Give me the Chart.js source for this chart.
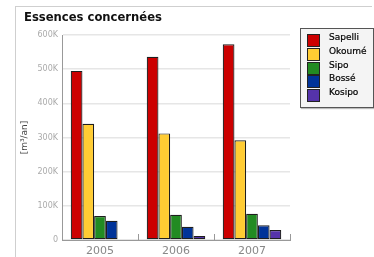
<!DOCTYPE html>
<html>
<head>
<meta charset="utf-8">
<script src="https://cdn.jsdelivr.net/npm/chart.js@4/dist/chart.umd.min.js"></script>
<style>
  html, body { margin: 0; padding: 0; background: #fff; overflow: hidden; }
  #wrap { position: relative; width: 374px; height: 257px; overflow: hidden; font-family: "DejaVu Sans", sans-serif; }
  #frame { position: absolute; left: 15px; top: 6px; width: 357px; height: 300px; border-top: 1px solid #cfcfcf; border-left: 1px solid #cfcfcf; box-sizing: border-box; }
  #title { position: absolute; left: 24px; top: 10px; font-size: 11.6px; font-weight: bold; color: #111; white-space: nowrap; }
  #legend { position: absolute; left: 300px; top: 28px; width: 72px; height: 78px; border: 1px solid #555; background: #f4f4f4; box-shadow: 1px 1px 1px #bbb; }
  .row { position: absolute; left: 6px; height: 12px; }
  .sw { position: absolute; left: 0; top: 0; width: 11px; height: 11px; border: 1px solid #222; }
  .lb { position: absolute; left: 22px; top: -3px; font-size: 9px; color: #000; white-space: nowrap; line-height: 12px; -webkit-text-stroke: 0.2px #000; }
  canvas { position: absolute; left: 0; top: 0; }
</style>
</head>
<body>
<div id="wrap">
  <div id="frame"></div>
  <canvas id="c" width="374" height="257"></canvas>
  <div id="title">Essences concernées</div>
  <div id="legend"></div>
</div>
<script>
const categories = ['2005', '2006', '2007'];
const seriesNames = ['Sapelli', 'Okoumé', 'Sipo', 'Bossé', 'Kosipo'];
const sapelli = [495000, 536000, 573000];
const okoume  = [340000, 312000, 292000];
const sipo    = [70000, 74000, 77000];
const bosse   = [56000, 39000, 43000];
const kosipo  = [2000, 12000, 29000];
const yTicks = [0, 100000, 200000, 300000, 400000, 500000, 600000];
const yTitle = '[m³/an]';

const colors = ['#cc0000', '#ffcc33', '#228b22', '#003399', '#5533aa'];
const values = [sapelli, okoume, sipo, bosse, kosipo];

const datasets = seriesNames.map((n, i) => ({
  label: n,
  data: values[i],
  backgroundColor: colors[i],
  borderColor: '#1e1e1e',
  borderWidth: 1.2,
  borderSkipped: false,
  categoryPercentage: 0.77,
  barPercentage: 1.0
}));

// HTML legend from series
const leg = document.getElementById('legend');
seriesNames.forEach((n, i) => {
  const r = document.createElement('div');
  r.className = 'row';
  r.style.top = (5 + i * 13.75) + 'px';
  r.innerHTML = '<div class="sw" style="background:' + colors[i] + '"></div><div class="lb">' + n + '</div>';
  leg.appendChild(r);
});

const catTicks = {
  id: 'catTicks',
  afterDraw(chart) {
    const x = chart.scales.x, ctx = chart.ctx;
    const n = categories.length;
    ctx.save();
    ctx.strokeStyle = '#999';
    ctx.lineWidth = 1;
    ctx.beginPath();
    for (let i = 1; i <= n; i++) {
      const px = Math.round(x.left + i * (x.width / n)) + 0.5;
      ctx.moveTo(px, x.top - 6);
      ctx.lineTo(px, x.top);
    }
    ctx.stroke();
    ctx.restore();
  }
};

new Chart(document.getElementById('c'), {
  type: 'bar',
  data: { labels: categories, datasets },
  options: {
    responsive: false,
    animation: false,
    layout: { padding: { left: 15, top: 35, right: 84, bottom: 0 } },
    plugins: { legend: { display: false }, title: { display: false }, tooltip: { enabled: false } },
    scales: {
      x: {
        afterFit(s) { s.height = 17; },
        grid: { display: false, drawTicks: false },
        border: { display: true, color: '#999', width: 1 },
        ticks: { color: '#888', font: { family: 'DejaVu Sans', size: 11 }, padding: 5 }
      },
      y: {
        min: 0, max: 600000,
        afterFit(s) { s.width = 47; },
        afterBuildTicks(s) { s.ticks = yTicks.map(v => ({ value: v })); },
        grid: { color: '#e6e6e6', lineWidth: 1.5, drawTicks: false },
        border: { display: true, color: '#999', width: 1 },
        ticks: {
          color: '#aaa', padding: 4,
          font: { family: 'DejaVu Sans', size: 8 },
          callback: v => v === 0 ? '0' : (v / 1000) + 'K'
        },
        title: { display: true, text: yTitle, color: '#444', font: { family: 'DejaVu Sans', size: 9 }, padding: { top: 4, bottom: 0 } }
      }
    }
  },
  plugins: [catTicks]
});
</script>
</body>
</html>
